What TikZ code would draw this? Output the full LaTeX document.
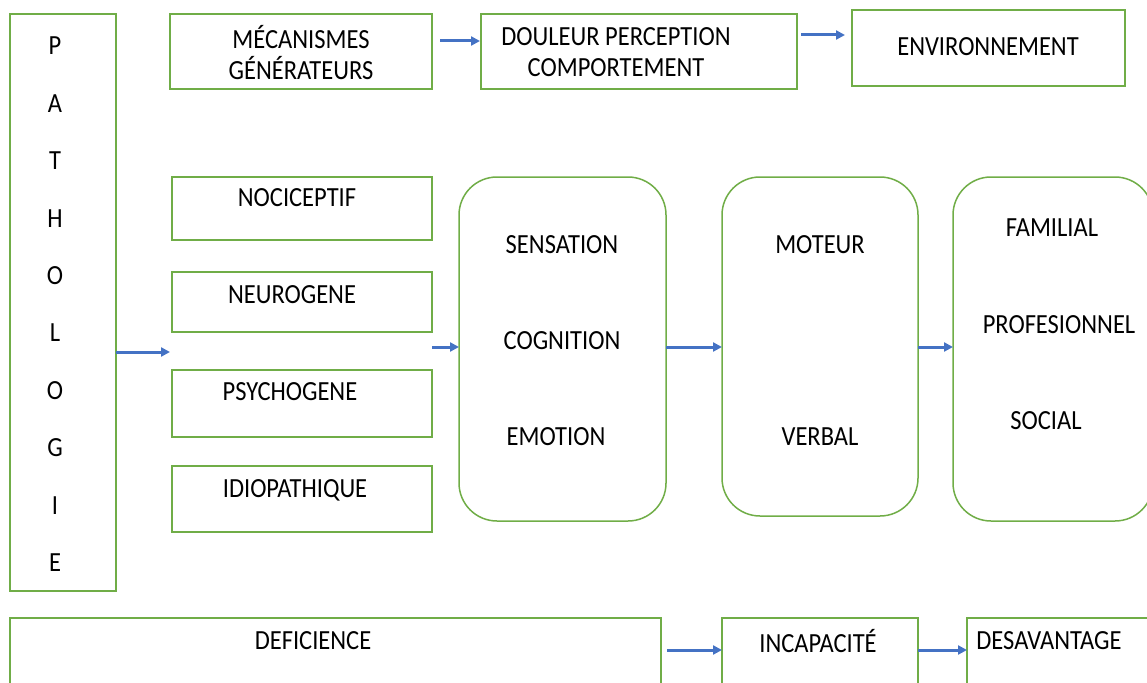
\documentclass[tikz,border=0pt]{standalone}
\usepackage{fontspec}
\setmainfont{Carlito}
\usetikzlibrary{arrows.meta}
\definecolor{boxgreen}{HTML}{70AD47}
\definecolor{arrblue}{HTML}{4472C4}
\newcommand\vtx[1]{\scalebox{1}[1.13]{#1}}
\tikzset{
  box/.style={draw=boxgreen, line width=1.5pt, outer sep=0pt, inner sep=0pt, rectangle},
  rbox/.style={box, rounded corners=38pt},
  txt/.style={font=\fontsize{24.5}{31}\selectfont, inner sep=0pt, align=center, text=black},
  arr/.style={draw=arrblue, line width=3pt, -{Triangle[length=9pt,width=9pt]}},
}
\begin{document}
\begin{tikzpicture}[x=1pt,y=-1pt]
\useasboundingbox (0,0) rectangle (1147,682);
\clip (0,0) rectangle (1147,682);
% boxes
\node[box, minimum width=106, minimum height=577] (patho) at (63,302.5) {};
\node[box, minimum width=262, minimum height=75] (mec) at (301,51.5) {};
\node[box, minimum width=316, minimum height=75] (doul) at (639,51.5) {};
\node[box, minimum width=273, minimum height=76] (env) at (988.5,48) {};
\node[box, minimum width=260, minimum height=63] (noci) at (302,208.5) {};
\node[box, minimum width=260, minimum height=60] (neuro) at (302,302) {};
\node[box, minimum width=260, minimum height=67] (psycho) at (302,403.5) {};
\node[box, minimum width=260, minimum height=66] (idio) at (302,499) {};
\node[rbox, minimum width=207, minimum height=344] (sens) at (562.5,349) {};
\node[rbox, minimum width=196, minimum height=339] (mot) at (820,346.5) {};
\node[rbox, minimum width=200, minimum height=344] (fam) at (1053,349) {};
\node[box, minimum width=651, minimum height=100] (defi) at (335.5,668) {};
\node[box, minimum width=196, minimum height=100] (incap) at (820,668) {};
\node[box, minimum width=200, minimum height=100] (desav) at (1067,668) {};
% texts
\foreach \l [count=\i from 0] in {P,A,T,H,O,L,O,G,I,E}{
  \node[txt] (p\i) at (55,{46+57.4*\i}) {\vtx{\l}};
}
\node[txt] (tmec) at (301,52.5) {\vtx{MÉCANISMES}\\\vtx{GÉNÉRATEURS}};
\node[txt] (tdoul) at (616,52.5) {\vtx{DOULEUR PERCEPTION}\\\vtx{COMPORTEMENT}};
\node[txt] (tenv) at (988,47) {\vtx{ENVIRONNEMENT}};
\node[txt] (tnoci) at (297,198) {\vtx{NOCICEPTIF}};
\node[txt] (tneuro) at (292,295) {\vtx{NEUROGENE}};
\node[txt] (tpsycho) at (290,392) {\vtx{PSYCHOGENE}};
\node[txt] (tidio) at (295,490) {\vtx{IDIOPATHIQUE}};
\node[txt] (tsens) at (562,245) {\vtx{SENSATION}};
\node[txt] (tcog) at (562,341) {\vtx{COGNITION}};
\node[txt] (temo) at (556,437) {\vtx{EMOTION}};
\node[txt] (tmot) at (820,245) {\vtx{MOTEUR}};
\node[txt] (tverb) at (820,437) {\vtx{VERBAL}};
\node[txt] (tfam) at (1052,228) {\vtx{FAMILIAL}};
\node[txt] (tprof) at (1059,325) {\vtx{PROFESIONNEL}};
\node[txt] (tsoc) at (1046,421) {\vtx{SOCIAL}};
\node[txt] (tdefi) at (313,641) {\vtx{DEFICIENCE}};
\node[txt] (tincap) at (818,641) {\vtx{INCAPACITÉ}};
\node[txt] (tdesav) at (1049,641) {\vtx{DESAVANTAGE}};
% connector coordinates
\coordinate (a1s) at (440,41);
\coordinate (a1e) at (480,41);
\coordinate (a2s) at (801,35);
\coordinate (a2e) at (845,35);
\coordinate (a3e) at (170,352);
\coordinate (a4s) at (432,347);
\coordinate (a5s) at (667,650);
% arrows
\draw[arr] (a1s) -- (a1e);
\draw[arr] (a2s) -- (a2e);
\draw[arr] (patho.east |- a3e) -- (a3e);
\draw[arr] (a4s) -- (sens.west |- a4s);
\draw[arr] (sens.east |- a4s) -- (mot.west |- a4s);
\draw[arr] (mot.east |- a4s) -- (fam.west |- a4s);
\draw[arr] (a5s) -- (incap.west |- a5s);
\draw[arr] (incap.east |- a5s) -- (desav.west |- a5s);
\end{tikzpicture}
\end{document}
